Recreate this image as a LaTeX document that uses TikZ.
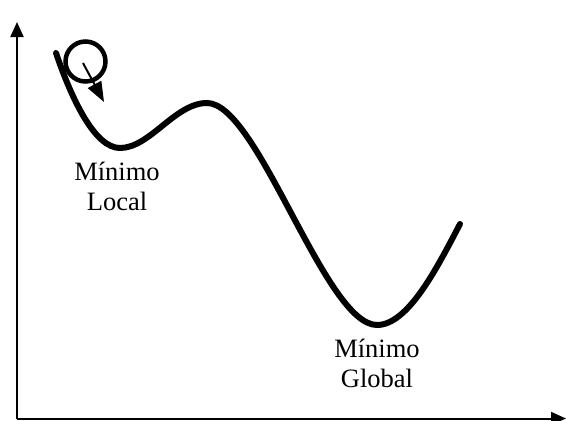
\documentclass[tikz,border=0pt]{standalone}
\usepackage{fontspec}
\setmainfont{Liberation Serif}
\usetikzlibrary{arrows.meta}
\begin{document}
\begin{tikzpicture}[x=1pt,y=-1pt,
  axisline/.style={line width=2pt,-{Triangle[length=15pt,width=13pt]}},
  curveline/.style={line width=6pt,line cap=round},
  ballline/.style={line width=4.5pt},
  motion/.style={line width=2pt,-{Triangle[length=20pt,width=15pt]}},
  lbl/.style={align=center,inner sep=0pt,anchor=base,font=\fontsize{26.5}{30}\selectfont}]
\useasboundingbox (0,0) rectangle (566,421);
\coordinate (origin) at (17,418.5);
\coordinate (ytip) at (17,22);
\coordinate (xtip) at (566,418.5);
\draw[axisline] (origin) -- (ytip);
\draw[axisline] (origin) -- (xtip);
\coordinate (c0) at (56,53);
\coordinate (cmin) at (120,148);
\coordinate (cmax) at (207,103);
\coordinate (gmin) at (377,325);
\coordinate (cend) at (460,224);
\draw[curveline] (c0) .. controls (72,100) and (95,148) .. (cmin)
  .. controls (150,148) and (175,103) .. (cmax)
  .. controls (258,103) and (325,325) .. (gmin)
  .. controls (408,325) and (437,268) .. (cend);
\node[circle,draw,ballline,minimum size=40pt,inner sep=0pt] (ball) at (85.5,61.5) {};
\coordinate (mstart) at (83,63);
\coordinate (mend) at (104,102);
\draw[motion] (mstart) -- (mend);
\node[lbl] (local) at (117,210) {Mínimo\\Local};
\node[lbl] (global) at (377,387) {Mínimo\\Global};
\end{tikzpicture}
\end{document}
